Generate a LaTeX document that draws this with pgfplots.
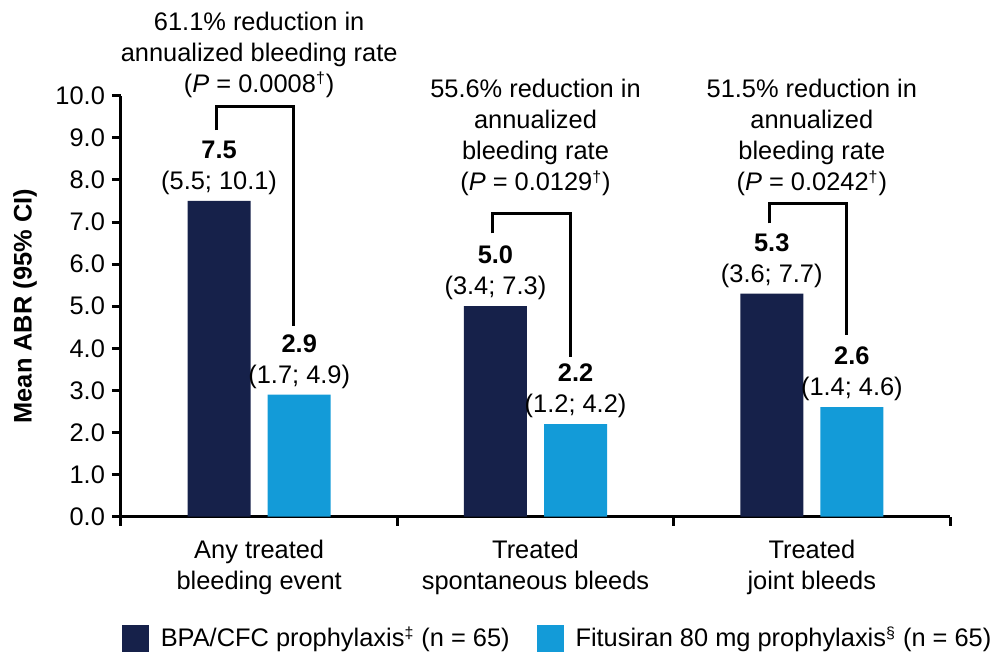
\documentclass[border=0pt]{standalone}
\usepackage{pgfplots}
\pgfplotsset{compat=1.18}
\usepackage{pgfplotstable}
\usepackage{fontspec}
\setmainfont{Liberation Sans}

\definecolor{navybar}{RGB}{22,33,74}
\definecolor{bluebar}{RGB}{19,155,216}
\newcommand\lblfont{\fontsize{12.7}{15.5}\selectfont}

% mean ABR with 95% CI bounds
\pgfplotstableread{
x y lo hi
0 7.5 5.5 10.1
1 5.0 3.4 7.3
2 5.3 3.6 7.7
}\bpatable
\pgfplotstableread{
x y lo hi
0 2.9 1.7 4.9
1 2.2 1.2 4.2
2 2.6 1.4 4.6
}\fitutable

\pgfplotsset{
  barlabels/.style={
    visualization depends on={\thisrow{lo} \as \cilo},
    visualization depends on={\thisrow{hi} \as \cihi},
    nodes near coords={\textbf{\pgfmathprintnumber[fixed,fixed zerofill,precision=1]{\pgfplotspointmeta}}\\(\pgfmathprintnumber[fixed,fixed zerofill,precision=1]{\cilo}; \pgfmathprintnumber[fixed,fixed zerofill,precision=1]{\cihi})},
    every node near coord/.append style={align=center, anchor=south, inner sep=0pt, yshift=2.8pt, font=\lblfont, text=black},
  },
}

\begin{document}
\begin{tikzpicture}[font=\lblfont]
\begin{axis}[
  name=ax,
  scale only axis, width=414.5pt, height=210.5pt,
  xmin=-0.5, xmax=2.5, ymin=0, ymax=10,
  clip=false,
  axis x line*=bottom, axis y line*=left,
  axis line style={line width=1.5pt, -},
  tick align=outside,
  every tick/.style={black, line width=1.5pt},
  major tick length=4.5pt,
  /pgf/number format/assume math mode=true,
  ytick={0,1,...,10},
  yticklabel style={/pgf/number format/.cd, fixed, fixed zerofill, precision=1, /tikz/.cd, font=\lblfont},
  xtick={-0.5,0.5,1.5,2.5},
  xticklabels={},
  extra x ticks={0,1,2},
  extra x tick labels={{Any treated\\bleeding event},{Treated\\spontaneous bleeds},{Treated\\joint bleeds}},
  extra x tick style={major tick length=0pt, xticklabel style={align=center, inner sep=0pt, yshift=-11.5pt, font=\lblfont}},
  ylabel={\bfseries Mean ABR (95\% CI)},
  ylabel style={at={(axis description cs:-0.1158,0.5)}, anchor=center, font=\lblfont},
  legend style={at={(axis description cs:0,0)}, anchor=north west, xshift=0.5pt, yshift=-54pt,
    draw=none, fill=none, inner sep=0pt, outer sep=0pt, font=\lblfont,
    nodes={inner sep=0pt},
    /tikz/every odd column/.append style={column sep=6pt},
    /tikz/every even column/.append style={column sep=13.5pt}},
  legend columns=2,
  legend cell align=left,
]
\addlegendimage{legend image code/.code={\fill[navybar] (0pt,-6.5pt) rectangle (13pt,6.5pt);}}
\addlegendentry{BPA/CFC prophylaxis\textsuperscript{\footnotesize ‡} (n = 65)}
\addlegendimage{legend image code/.code={\fill[bluebar] (0pt,-6.5pt) rectangle (13pt,6.5pt);}}
\addlegendentry{Fitusiran 80 mg prophylaxis\textsuperscript{\footnotesize §} (n = 65)}

% bars sit left and right of each category centre
\addplot[ybar, bar width=0.228, bar shift=0, fill=navybar, draw=none, forget plot, barlabels]
  table[x expr=\thisrow{x}-0.145, y=y] {\bpatable};
\addplot[ybar, bar width=0.228, bar shift=0, fill=bluebar, draw=none, forget plot, barlabels]
  table[x expr=\thisrow{x}+0.145, y=y] {\fitutable};

% comparison brackets
\addplot[black, line width=1.5pt, line join=miter, mark=none, forget plot]
  coordinates {(-0.155,9.18) (-0.155,9.75) (0.125,9.75) (0.125,4.53)};
\addplot[black, line width=1.5pt, line join=miter, mark=none, forget plot]
  coordinates {(0.845,6.73) (0.845,7.21) (1.125,7.21) (1.125,3.79)};
\addplot[black, line width=1.5pt, line join=miter, mark=none, forget plot]
  coordinates {(1.845,6.97) (1.845,7.45) (2.125,7.45) (2.125,4.31)};

\node[align=center, font=\lblfont] at (axis cs:0,10.98)
  {61.1\% reduction in\\annualized bleeding rate\\(\textit{P} = 0.0008\textsuperscript{\footnotesize †})};
\node[align=center, font=\lblfont] at (axis cs:1,9.0)
  {55.6\% reduction in\\annualized\\bleeding rate\\(\textit{P} = 0.0129\textsuperscript{\footnotesize †})};
\node[align=center, font=\lblfont] at (axis cs:2,9.0)
  {51.5\% reduction in\\annualized\\bleeding rate\\(\textit{P} = 0.0242\textsuperscript{\footnotesize †})};
\end{axis}
\path ([xshift=-60.5pt, yshift=-68.65pt]ax.south west) rectangle ([xshift=22.5pt, yshift=47.85pt]ax.north east);
\end{tikzpicture}
\end{document}
